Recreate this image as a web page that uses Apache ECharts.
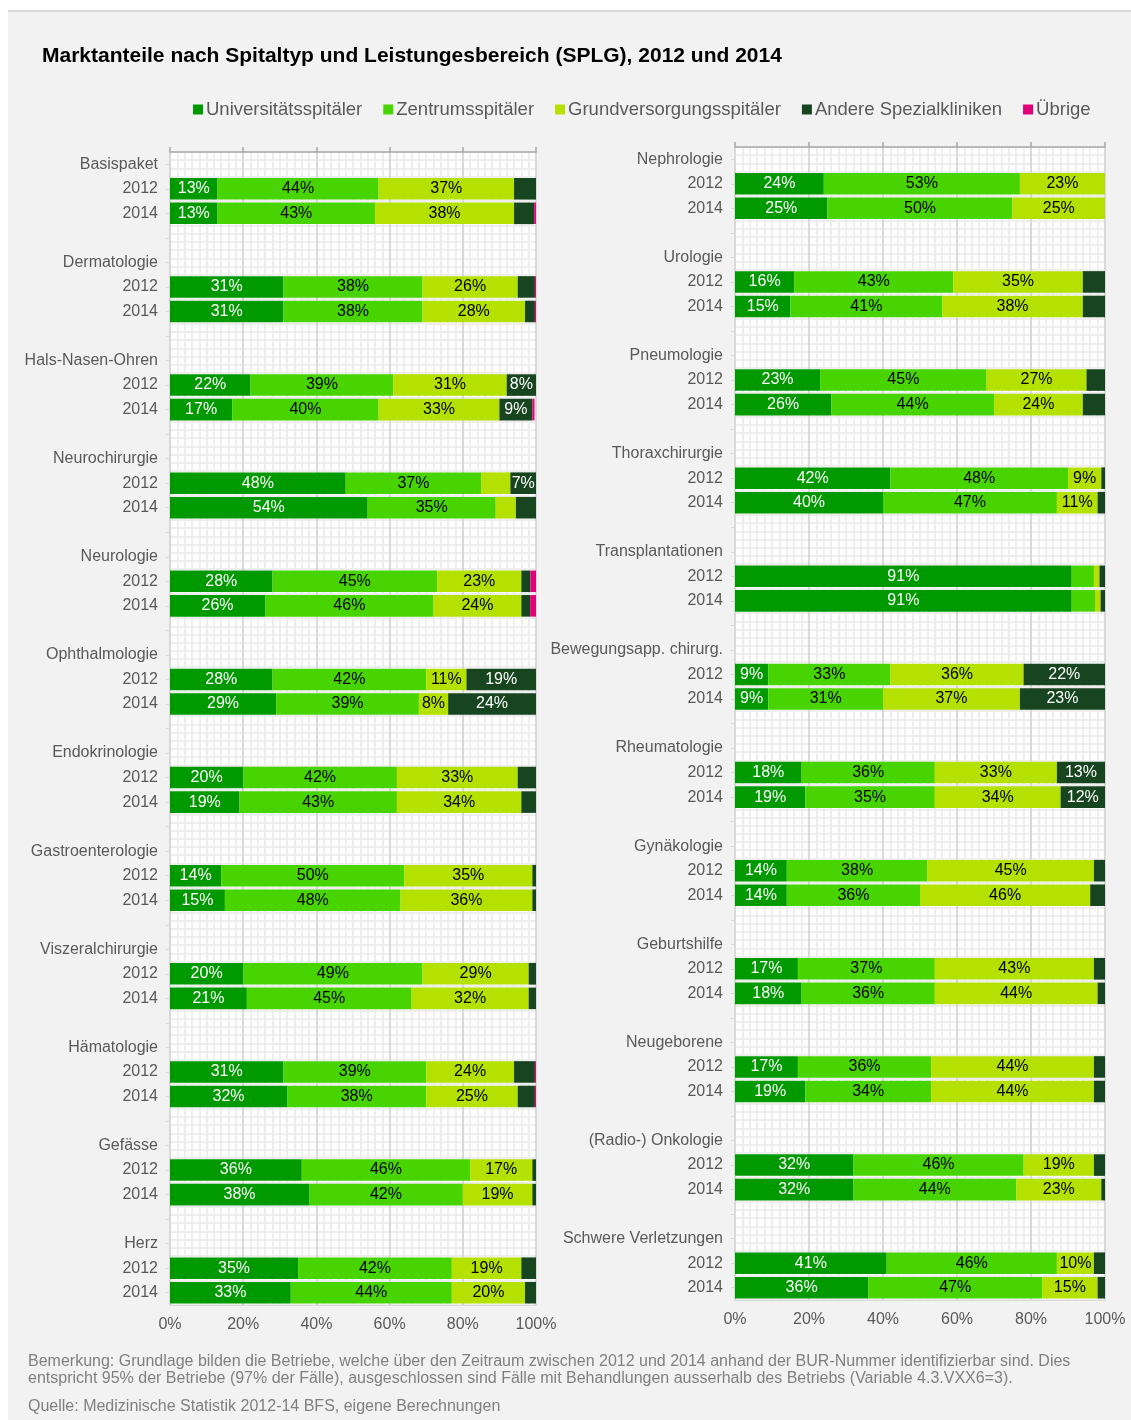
<!DOCTYPE html>
<html lang="de">
<head>
<meta charset="utf-8">
<title>Marktanteile nach Spitaltyp und Leistungesbereich</title>
<script src="https://cdn.jsdelivr.net/npm/echarts@6/dist/echarts.min.js"></script>
<style>
  html, body { margin: 0; padding: 0; background: #ffffff; }
  #frame { position: absolute; left: 8px; top: 10px; width: 1123px; height: 1410px;
           background: #f2f2f2; border-top: 2px solid #d9d9d9; box-sizing: border-box; }
  #chart { position: absolute; left: 0; top: 0; width: 1131px; height: 1420px; }
</style>
</head>
<body>
<div id="frame"></div>
<div id="chart"></div>
<script>
// Leistungsbereiche (SPLG) of the two panels
const leftGroups = ['Basispaket', 'Dermatologie', 'Hals-Nasen-Ohren', 'Neurochirurgie', 'Neurologie',
  'Ophthalmologie', 'Endokrinologie', 'Gastroenterologie', 'Viszeralchirurgie', 'Hämatologie', 'Gefässe', 'Herz'];
const rightGroups = ['Nephrologie', 'Urologie', 'Pneumologie', 'Thoraxchirurgie', 'Transplantationen',
  'Bewegungsapp. chirurg.', 'Rheumatologie', 'Gynäkologie', 'Geburtshilfe', 'Neugeborene',
  '(Radio-) Onkologie', 'Schwere Verletzungen'];
const years = ['2012', '2014'];
const hospitalTypes = ['Universitätsspitäler', 'Zentrumsspitäler', 'Grundversorgungsspitäler',
  'Andere Spezialkliniken', 'Übrige'];
const xTicks = ['0%', '20%', '40%', '60%', '80%', '100%'];

// Marktanteile in %, pro Bereich: 2012, 2014
const leftUni     = [13, 13, 31, 31, 22, 17, 48, 54, 28, 26, 28, 29, 20, 19, 14, 15, 20, 21, 31, 32, 36, 38, 35, 33];
const leftZentrum = [44, 43, 38, 38, 39, 40, 37, 35, 45, 46, 42, 39, 42, 43, 50, 48, 49, 45, 39, 38, 46, 42, 42, 44];
const leftGrund   = [37, 38, 26, 28, 31, 33, 8, 5.5, 23, 24, 11, 8, 33, 34, 35, 36, 29, 32, 24, 25, 17, 19, 19, 20];
const leftAndere  = [6, 5.5, 4.7, 2.7, 8, 9, 7, 5.5, 2.5, 2.4, 19, 24, 5, 4, 1, 1, 2, 2, 5.7, 4.7, 1, 1, 4, 3];
const leftUebrige = [0, 0.5, 0.3, 0.3, 0, 0.6, 0, 0, 1.5, 1.6, 0, 0, 0, 0, 0, 0, 0, 0, 0.3, 0.3, 0, 0, 0, 0];

const rightUni     = [24, 25, 16, 15, 23, 26, 42, 40, 91, 91, 9, 9, 18, 19, 14, 14, 17, 18, 17, 19, 32, 32, 41, 36];
const rightZentrum = [53, 50, 43, 41, 45, 44, 48, 47, 6, 6.3, 33, 31, 36, 35, 38, 36, 37, 36, 36, 34, 46, 44, 46, 47];
const rightGrund   = [23, 25, 35, 38, 27, 24, 9, 11, 1.5, 1.5, 36, 37, 33, 34, 45, 46, 43, 44, 44, 44, 19, 23, 10, 15];
const rightAndere  = [0.4, 0.3, 6, 6, 5, 6, 1, 2, 1.5, 1.2, 22, 23, 13, 12, 3, 4, 3, 2, 3, 3, 3, 1, 3, 2];
const rightUebrige = [0, 0, 0, 0, 0, 0, 0, 0, 0, 0, 0, 0, 0, 0, 0, 0, 0, 0, 0, 0, 0, 0, 0, 0];

// segments without a value label (panel, type index, group, year)
const unlabeled = [['L', 2, 'Neurochirurgie', '2012']];

const colors = ['#009a00', '#47d400', '#b4e100', '#17451f', '#e2007a'];
const labelColors = ['#ffffff', '#000000', '#000000', '#ffffff', '#ffffff'];
const FONT = "'Liberation Sans', Arial, sans-serif";

// category rows: header, 2012, 2014, spacer (no spacer after the last group)
function buildRows(groups) {
  const rows = [];
  groups.forEach((g, i) => {
    rows.push(g + '|h', g + '|2012', g + '|2014');
    if (i < groups.length - 1) rows.push(g + '|gap');
  });
  return rows;
}

function rowData(rows, groups, values) {
  return rows.map(r => {
    const [g, k] = r.split('|');
    if (!years.includes(k)) return null;
    return values[groups.indexOf(g) * 2 + years.indexOf(k)];
  });
}

function panelSeries(panel, groups, arrays, gridIdx) {
  const rows = buildRows(groups);
  return arrays.map((vals, t) => ({
    name: hospitalTypes[t],
    type: 'bar',
    stack: panel,
    xAxisIndex: gridIdx * 2,
    yAxisIndex: gridIdx * 2,
    barCategoryGap: '12%',
    itemStyle: { color: colors[t] },
    label: {
      show: true,
      position: 'inside',
      color: labelColors[t],
      fontFamily: FONT,
      fontSize: 16,
      formatter: p => {
        if (p.value == null || p.value < 7) return '';
        const [g, k] = rows[p.dataIndex].split('|');
        if (unlabeled.some(u => u[0] === panel && u[1] === t && u[2] === g && u[3] === k)) return '';
        return p.value + '%';
      }
    },
    emphasis: { disabled: true },
    data: rowData(rows, groups, vals)
  }));
}

const leftRows = buildRows(leftGroups);
const rightRows = buildRows(rightGroups);
const cellRows = leftRows.length * 3;

const grids = [
  { left: 170, top: 152, width: 366, height: 1153 },
  { left: 735, top: 147, width: 370, height: 1153 }
];

function xAxes(gridIdx) {
  return [
    {
      gridIndex: gridIdx, type: 'value', min: 0, max: 100, interval: 20, position: 'bottom',
      axisLine: { show: true, lineStyle: { color: '#d9d9d9', width: 1 } },
      axisTick: { show: false },
      axisLabel: { color: '#595959', fontFamily: FONT, fontSize: 16, margin: 12,
        formatter: v => xTicks[Math.round(v / 20)] },
      splitLine: { show: true, lineStyle: { color: '#d9d9d9', width: 2 } },
      minorTick: { show: false, splitNumber: 10 },
      minorSplitLine: { show: true, lineStyle: { color: '#eeeeee', width: 2 } }
    },
    {
      gridIndex: gridIdx, type: 'value', min: 0, max: 100, interval: 20, position: 'top',
      axisLine: { show: true, lineStyle: { color: '#a6a6a6', width: 1.5 } },
      axisTick: { show: true, length: 5, lineStyle: { color: '#a6a6a6', width: 1.5 } },
      axisLabel: { show: false },
      splitLine: { show: false }
    }
  ];
}

function yAxes(gridIdx, rows) {
  return [
    {
      gridIndex: gridIdx, type: 'category', inverse: true, data: rows,
      axisLine: { show: true, lineStyle: { color: '#d9d9d9', width: 1 } },
      axisTick: { show: true, alignWithLabel: true, interval: 0, length: 4, lineStyle: { color: '#d9d9d9' } },
      axisLabel: { interval: 0, color: '#595959', fontFamily: FONT, fontSize: 16, margin: 12,
        formatter: v => { const [g, k] = v.split('|'); return k === 'h' ? g : (k === 'gap' ? '' : k); } },
      splitLine: { show: false }
    },
    {
      // fine horizontal lines of the background raster
      gridIndex: gridIdx, type: 'value', min: 0, max: cellRows, interval: 1, position: 'right',
      axisLine: { show: false }, axisTick: { show: false }, axisLabel: { show: false },
      splitLine: { show: true, lineStyle: { color: '#eeeeee', width: 2 } }
    }
  ];
}

const series = [
  ...panelSeries('L', leftGroups, [leftUni, leftZentrum, leftGrund, leftAndere, leftUebrige], 0),
  ...panelSeries('R', rightGroups, [rightUni, rightZentrum, rightGrund, rightAndere, rightUebrige], 1)
];

const footnotes = [
  'Bemerkung: Grundlage bilden die Betriebe, welche über den Zeitraum zwischen 2012 und 2014 anhand der BUR-Nummer identifizierbar sind. Dies',
  'entspricht 95% der Betriebe (97% der Fälle), ausgeschlossen sind Fälle mit Behandlungen ausserhalb des Betriebs (Variable 4.3.VXX6=3).',
  'Quelle: Medizinische Statistik 2012-14 BFS, eigene Berechnungen'
];

const chart = echarts.init(document.getElementById('chart'), null, { renderer: 'canvas' });
chart.setOption({
  backgroundColor: 'transparent',
  animation: false,
  color: colors,
  title: {
    text: 'Marktanteile nach Spitaltyp und Leistungesbereich (SPLG), 2012 und 2014',
    left: 37, top: 41,
    textStyle: { fontFamily: FONT, fontSize: 21, fontWeight: 'bold', color: '#000000' }
  },
  legend: {
    data: hospitalTypes,
    left: 188, top: 95,
    icon: 'rect', itemWidth: 10, itemHeight: 10, itemGap: 21,
    textStyle: { fontFamily: FONT, fontSize: 18.5, color: '#595959', padding: [0, 0, 0, -2] }
  },
  grid: grids.map(g => Object.assign({ show: true, backgroundColor: '#ffffff', borderWidth: 0 }, g)),
  xAxis: [...xAxes(0), ...xAxes(1)],
  yAxis: [...yAxes(0, leftRows), ...yAxes(1, rightRows)],
  series: series,
  graphic: footnotes.map((t, i) => ({
    type: 'text', left: 28, top: [1354, 1371, 1399][i],
    style: { text: t, fill: '#808080', font: '16px ' + FONT }
  }))
});
</script>
</body>
</html>
